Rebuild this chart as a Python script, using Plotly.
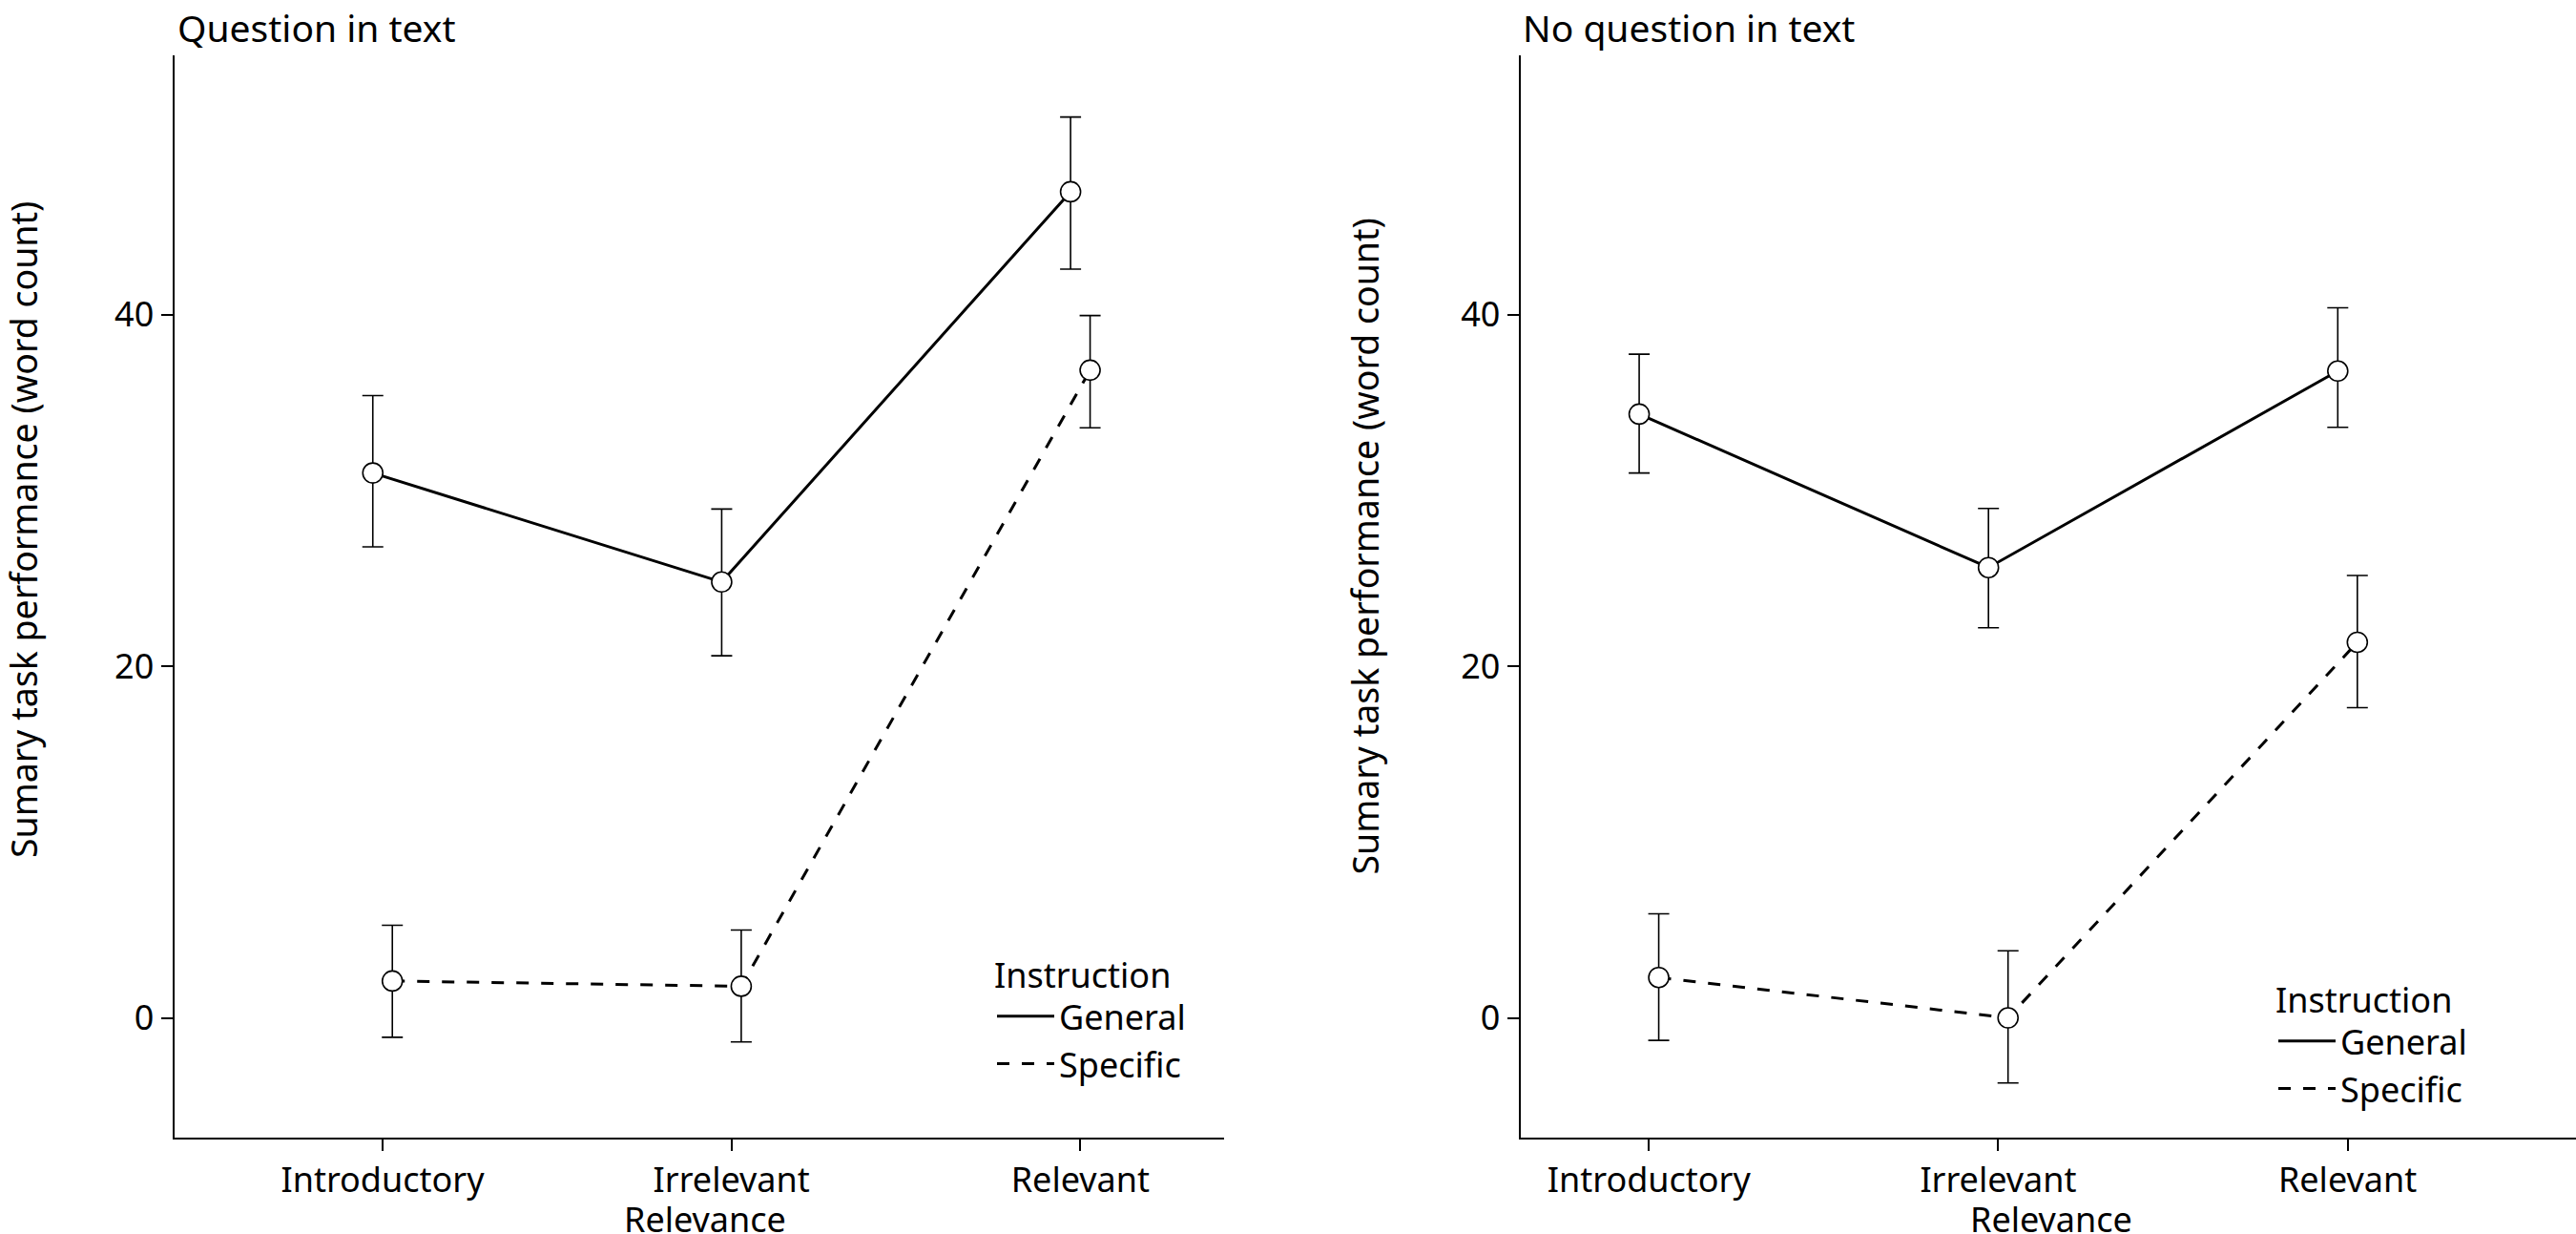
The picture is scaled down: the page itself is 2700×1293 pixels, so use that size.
import plotly.graph_objects as go

# ---------------- data ----------------
categories = ["Introductory", "Irrelevant", "Relevant"]
panel_titles = ["Question in text", "No question in text"]
instructions = ["General", "Specific"]

# Question in text
q_general = [31.0, 24.8, 47.0]
q_general_hi = [35.4, 28.95, 51.25]
q_general_lo = [26.8, 20.6, 42.6]
q_specific = [2.1, 1.8, 36.85]
q_specific_hi = [5.27, 5.0, 39.96]
q_specific_lo = [-1.1, -1.37, 33.57]

# No question in text
n_general = [34.35, 25.62, 36.8]
n_general_hi = [37.76, 28.98, 40.4]
n_general_lo = [31.0, 22.2, 33.6]
n_specific = [2.3, 0.0, 21.37]
n_specific_hi = [5.92, 3.82, 25.17]
n_specific_lo = [-1.28, -3.7, 17.65]

y_ticks = [0, 20, 40]

# ---------------- styling ----------------
W, H = 2700, 1293
FONT = "Noto Sans"
FS = 36
DODGE = 0.028
dash_map = {"General": "solid", "Specific": "13px,13px"}

panels = [
    dict(series={"General": (q_general, q_general_hi, q_general_lo),
                 "Specific": (q_specific, q_specific_hi, q_specific_lo)},
         xaxis="x", yaxis="y", legend="legend"),
    dict(series={"General": (n_general, n_general_hi, n_general_lo),
                 "Specific": (n_specific, n_specific_hi, n_specific_lo)},
         xaxis="x2", yaxis="y2", legend="legend2"),
]

fig = go.Figure()
xpos_base = list(range(1, len(categories) + 1))

for p in panels:
    for k, name in enumerate(instructions):
        vals, hi, lo = p["series"][name]
        off = -DODGE if k == 0 else DODGE
        xs = [b + off for b in xpos_base]
        fig.add_trace(go.Scatter(
            x=xs, y=vals, mode="lines", name=name,
            line=dict(color="black", width=3, dash=dash_map[name]),
            xaxis=p["xaxis"], yaxis=p["yaxis"], legend=p["legend"],
            hoverinfo="skip",
        ))
    for k, name in enumerate(instructions):
        vals, hi, lo = p["series"][name]
        off = -DODGE if k == 0 else DODGE
        xs = [b + off for b in xpos_base]
        fig.add_trace(go.Scatter(
            x=xs, y=vals, mode="markers", name=name, showlegend=False,
            marker=dict(symbol="circle", size=21, color="white",
                        line=dict(color="black", width=1.6)),
            error_y=dict(type="data", symmetric=False,
                         array=[h - v for h, v in zip(hi, vals)],
                         arrayminus=[v - l for v, l in zip(vals, lo)],
                         color="black", thickness=1.6, width=11),
            xaxis=p["xaxis"], yaxis=p["yaxis"],
        ))

ydom = [1 - 1192 / H, 1 - 58 / H]
yrange = [-6.81, 54.76]
axis_common = dict(showgrid=False, zeroline=False, showline=True, linecolor="black",
                   linewidth=2, ticks="outside", ticklen=12, tickwidth=1.6,
                   tickcolor="black", tickfont=dict(family=FONT, size=FS, color="black"))

legend_common = dict(xanchor="left", yanchor="top",
                     title=dict(text="Instruction", font=dict(family=FONT, size=FS)),
                     font=dict(family=FONT, size=FS), bgcolor="rgba(0,0,0,0)",
                     tracegroupgap=0, itemwidth=60)

fig.update_layout(
    width=W, height=H, margin=dict(l=0, r=0, t=0, b=0),
    paper_bgcolor="white", plot_bgcolor="white",
    font=dict(family=FONT, size=FS, color="black"),
    xaxis=dict(domain=[182.5 / W, 1283 / W], range=[0.4025, 3.412],
               tickvals=xpos_base, ticktext=categories, anchor="y", **axis_common),
    yaxis=dict(domain=ydom, range=yrange, tickvals=y_ticks, anchor="x", **axis_common),
    xaxis2=dict(domain=[1593.6 / W, 1.0], range=[0.632, 3.654],
                tickvals=xpos_base, ticktext=categories, anchor="y2", **axis_common),
    yaxis2=dict(domain=ydom, range=yrange, tickvals=y_ticks, anchor="x2", **axis_common),
    legend=dict(x=1040 / W, y=1 - 988 / H, **legend_common),
    legend2=dict(x=2383 / W, y=1 - 1014 / H, **legend_common),
)

annotations = [
    dict(text=panel_titles[0], x=184 / W, y=1.0, xanchor="left", yanchor="top",
         font=dict(family=FONT, size=39, color="black")),
    dict(text=panel_titles[1], x=1593.6 / W, y=1.0, xanchor="left", yanchor="top",
         font=dict(family=FONT, size=39, color="black")),
    dict(text="Sumary task performance (word count)", x=24 / W, y=1 - 555 / H,
         textangle=-90, xanchor="center", yanchor="middle",
         font=dict(family=FONT, size=37.5, color="black")),
    dict(text="Sumary task performance (word count)", x=1429.5 / W, y=1 - 573 / H,
         textangle=-90, xanchor="center", yanchor="middle",
         font=dict(family=FONT, size=37.5, color="black")),
    dict(text="Relevance", x=739 / W, y=0.0, xanchor="center", yanchor="bottom", yshift=-11),
    dict(text="Relevance", x=2150 / W, y=0.0, xanchor="center", yanchor="bottom", yshift=-11),
]
for a in annotations:
    a.setdefault("font", dict(family=FONT, size=FS, color="black"))
    a.update(xref="paper", yref="paper", showarrow=False)
fig.update_layout(annotations=annotations)

fig.write_html("out.html", config={"displayModeBar": False},
               post_script="document.body.style.margin='0';document.body.style.overflow='hidden';")
